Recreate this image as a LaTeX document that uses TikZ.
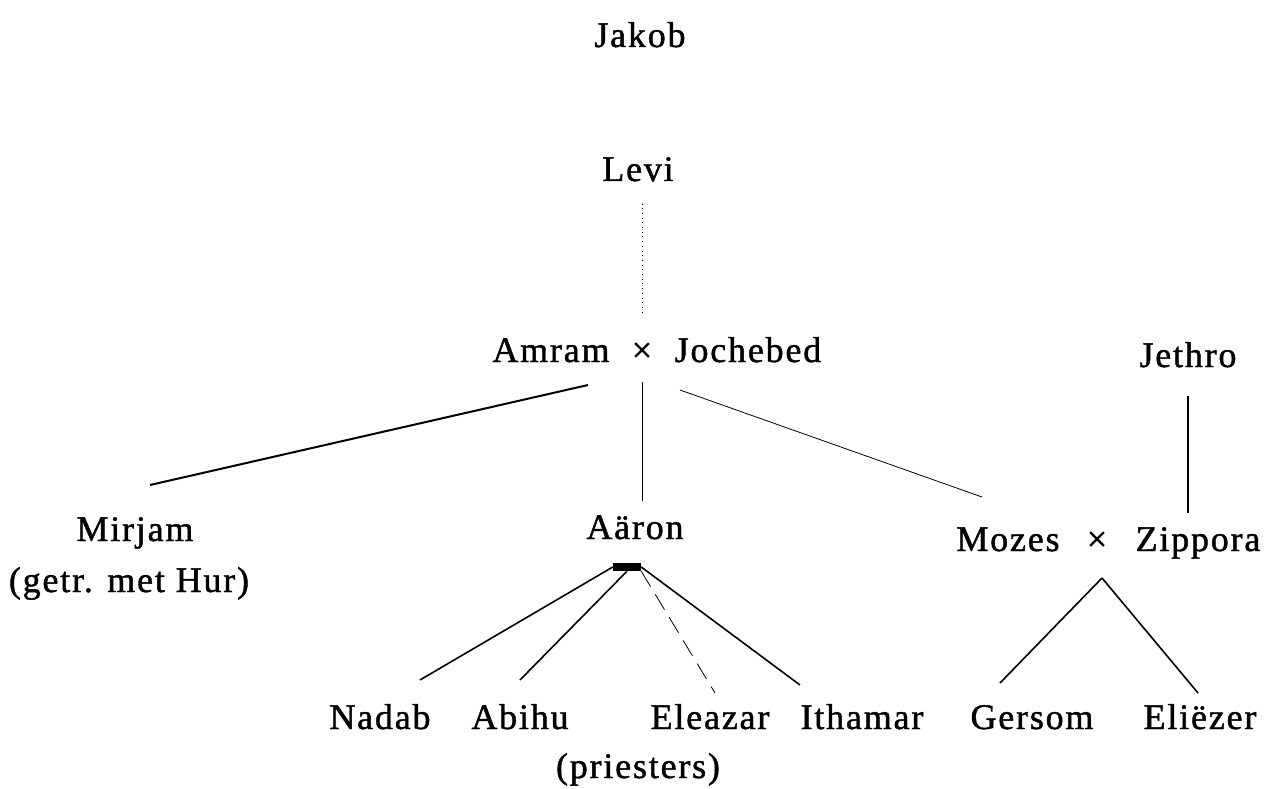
\documentclass[tikz,border=0pt]{standalone}
\usepackage{fontspec}
\setmainfont{Liberation Serif}[LetterSpace=5, UprightFeatures={FakeBold=1.2}]
\usetikzlibrary{calc}

\begin{document}
\begin{tikzpicture}[x=1pt,y=-1pt, every node/.style={font=\fontsize{36}{40}\selectfont,inner sep=0pt,anchor=base}]
		\tikzstyle{tie}=[line width=1.6pt]
		\tikzstyle{thin tie}=[line width=0.8pt]
		\tikzstyle{broken tie}=[line width=0.8pt, dash pattern=on 18pt off 9pt]
		\tikzstyle{knot}=[fill=black, anchor=center, minimum width=28pt, minimum height=8pt]
		\useasboundingbox (0,0) rectangle (1270,789);
		
		% Draw the ancestors
		\node (jakob) at (640,47) {Jakob};
		\node (levi) at (638,181) {Levi};
		
		% Draw the parents
		\node (marriage1) at (642,362) {×};
		\node (amram) at (551,362) {Amram};
		\node (jochebed) at (748,362) {Jochebed};
		\node (jethro) at (1188,367) {Jethro};
		
		% Draw the children of Amram
		\node (mirjam) at (135,541) {Mirjam};
		\node (hur) at (129,592) {(getr. met Hur)};
		\node (aaron) at (635,539) {Aäron};
		\node (marriage2) at (1097,551) {×};
		\node (mozes) at (1008,551) {Mozes};
		\node (zippora) at (1198,551) {Zippora};
		
		% Draw the grandchildren
		\foreach \name / \label / \x in {nadab/Nadab/380, abihu/Abihu/520, eleazar/Eleazar/710, ithamar/Ithamar/862, gersom/Gersom/1032, eliezer/Eliëzer/1200}
		\node (\name) at (\x,729) {\label};
		\node (priesters) at (638,778) {(priesters)};
		
		% Ends of the lines
		\coordinate (amram-foot) at (588,385);
		\coordinate (jochebed-foot) at (680,390);
		\coordinate (mirjam-top) at (150,485);
		\coordinate (mozes-top) at (982,497);
		\node[knot] (aaron-knot) at (627,567) {};
		\coordinate (mozes-knot) at (1102,578);
		\foreach \name / \x / \y in {nadab/420/680, abihu/520/680, eleazar/715/693, ithamar/800/685, gersom/1000/683, eliezer/1198/693}
		\coordinate (\name-top) at (\x,\y);
		
		% Connect Levi and Amram
		\draw[loosely dotted, line width=0.7pt, shorten <=22pt, shorten >=30pt] (marriage1.north |- levi.south) -- (marriage1.north);
		
		% Connect the children
		\draw[line width=2pt] (amram-foot) -- (mirjam-top);
		\draw[thin tie, shorten <=20pt, shorten >=14pt] (marriage1.south) -- (marriage1.south |- aaron.north);
		\draw[thin tie] (jochebed-foot) -- (mozes-top);
		\draw[tie, shorten <=28pt, shorten >=14pt] (jethro.south) -- (jethro.south |- zippora.north);
		
		% Connect the grandchildren
		\draw[tie] (aaron-knot.west) -- (nadab-top);
		\draw[tie] (aaron-knot.south) -- (abihu-top);
		\draw[broken tie] (aaron-knot.south east) -- (eleazar-top);
		\draw[tie] (aaron-knot.east) -- (ithamar-top);
		\foreach \dest in {gersom,eliezer}
		\draw[tie] (mozes-knot) -- (\dest-top);
	
	\end{tikzpicture}
\end{document}
